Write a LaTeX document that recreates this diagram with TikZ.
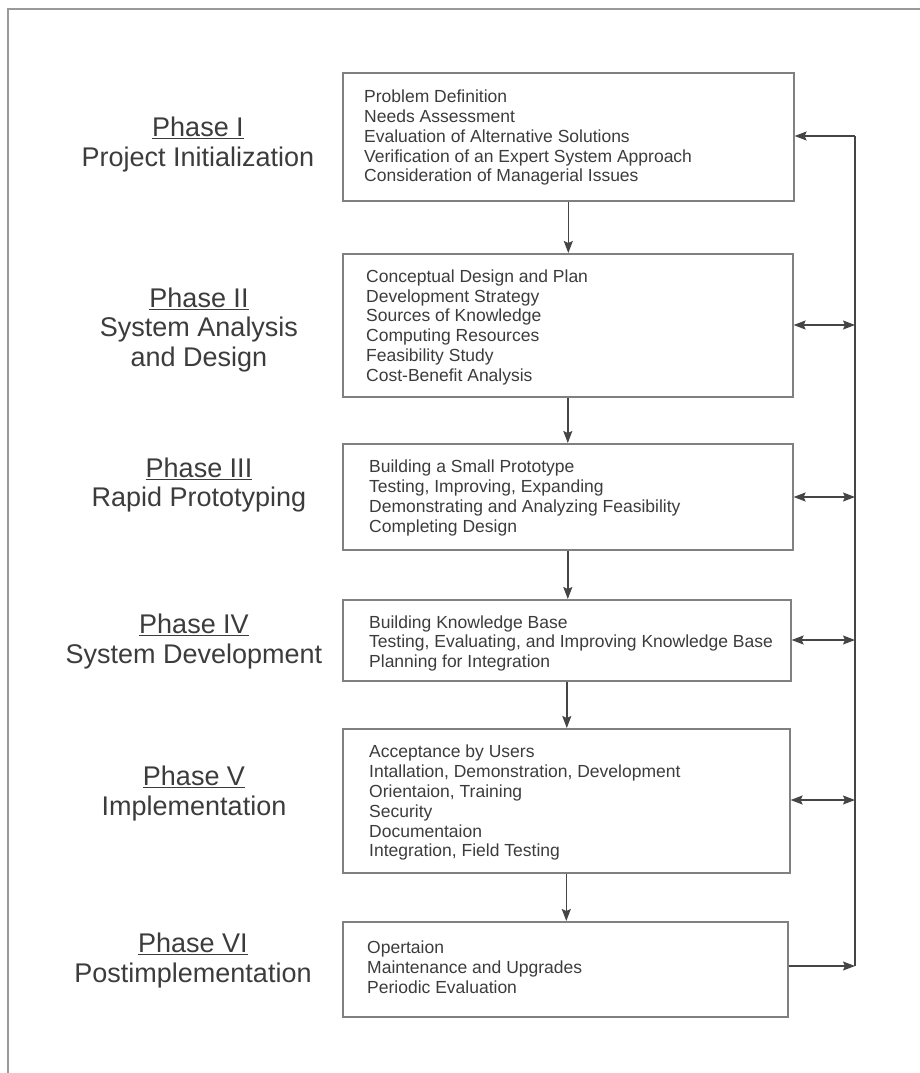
\documentclass[tikz,border=0pt]{standalone}
\usepackage{fontspec}
\setmainfont{Liberation Sans}
\usetikzlibrary{arrows.meta}
\definecolor{txt}{HTML}{3C3C3C}
\definecolor{boxline}{HTML}{808080}
\definecolor{arr}{HTML}{454545}
\definecolor{frame}{HTML}{9A9A9A}
\tikzset{
  stagebox/.style={draw=boxline, line width=1.6pt, rectangle, anchor=north west, inner sep=0pt},
  itemtext/.style={anchor=west, inner sep=0pt, align=left, text=txt,
    font=\fontsize{17.5}{19.8}\selectfont},
  phaselabel/.style={align=center, text=txt, inner sep=0pt,
    font=\fontsize{27}{29.5}\selectfont},
  flow/.style={draw=arr, line width=1.4pt, -{Stealth[length=12pt,width=9pt,inset=2pt]}},
  twoway/.style={draw=arr, line width=1.4pt, {Stealth[length=12pt,width=9pt,inset=2pt]}-{Stealth[length=12pt,width=9pt,inset=2pt]}},
  plainline/.style={draw=arr, line width=1.4pt}
}
\begin{document}
\begin{tikzpicture}[x=1pt,y=-1pt]
\useasboundingbox (0,0) rectangle (920,1073);
\fill[white] (0,0) rectangle (920,1073);
% outer frame (only top and left edges visible)
\draw[frame, line width=1.5pt] (8,1080) -- (8,9) -- (930,9);

% stage boxes
\node[stagebox, minimum width=451pt, minimum height=128pt] (b1) at (342,72) {};
\node[stagebox, minimum width=450pt, minimum height=143pt] (b2) at (342,253) {};
\node[stagebox, minimum width=450pt, minimum height=106pt] (b3) at (342,443) {};
\node[stagebox, minimum width=448pt, minimum height=81pt] (b4) at (342,599) {};
\node[stagebox, minimum width=447pt, minimum height=144pt] (b5) at (342,728) {};
\node[stagebox, minimum width=445pt, minimum height=95pt] (b6) at (342,921) {};

% box contents
\node[itemtext] (t1) at ([xshift=22pt,yshift=-1pt]b1.west)
 {Problem Definition\\Needs Assessment\\Evaluation of Alternative Solutions\\Verification of an Expert System Approach\\Consideration of Managerial Issues};
\node[itemtext] (t2) at ([xshift=24pt,yshift=-2pt]b2.west)
 {Conceptual Design and Plan\\Development Strategy\\Sources of Knowledge\\Computing Resources\\Feasibility Study\\Cost-Benefit Analysis};
\node[itemtext] (t3) at ([xshift=27pt,yshift=-1pt]b3.west)
 {Building a Small Prototype\\Testing, Improving, Expanding\\Demonstrating and Analyzing Feasibility\\Completing Design};
\node[itemtext] (t4) at ([xshift=27pt,yshift=-3pt]b4.west)
 {Building Knowledge Base\\Testing, Evaluating, and Improving Knowledge Base\\Planning for Integration};
\node[itemtext] (t5) at ([xshift=27pt,yshift=-2pt]b5.west)
 {Acceptance by Users\\Intallation, Demonstration, Development\\Orientaion, Training\\Security\\Documentaion\\Integration, Field Testing};
\node[itemtext] (t6) at ([xshift=25pt,yshift=2pt]b6.west)
 {Opertaion\\Maintenance and Upgrades\\Periodic Evaluation};

% phase labels
\node[phaselabel] (p1) at (198,144.5) {\underline{Phase I}\\Project Initialization};
\node[phaselabel] (p2) at (199,330) {\underline{Phase II}\\System Analysis\\and Design};
\node[phaselabel] (p3) at (199,485) {\underline{Phase III}\\Rapid Prototyping};
\node[phaselabel] (p4) at (194,641.5) {\underline{Phase IV}\\System Development};
\node[phaselabel] (p5) at (194,793.5) {\underline{Phase V}\\Implementation};
\node[phaselabel] (p6) at (193,960.5) {\underline{Phase VI}\\Postimplementation};

% downward flow
\draw[flow] (b1.south) -- (b1.south |- b2.north);
\draw[flow] (b2.south) -- (b2.south |- b3.north);
\draw[flow] (b3.south) -- (b3.south |- b4.north);
\draw[flow] (b4.south) -- (b4.south |- b5.north);
\draw[flow] (b5.south) -- (b5.south |- b6.north);

% feedback line
\coordinate (rtop) at (855,136);
\coordinate (r2) at (855,325);
\coordinate (r3) at (855,497);
\coordinate (r4) at (855,640);
\coordinate (r5) at (855,800);
\coordinate (rbot) at (855,966);
\draw[plainline] (rbot) -- (rtop);
\draw[flow] (rtop) -- (b1.east |- rtop);
\draw[twoway] (b2.east |- r2) -- (r2);
\draw[twoway] (b3.east |- r3) -- (r3);
\draw[twoway] (b4.east |- r4) -- (r4);
\draw[twoway] (b5.east |- r5) -- (r5);
\draw[flow] (b6.east |- rbot) -- (rbot);
\end{tikzpicture}
\end{document}
